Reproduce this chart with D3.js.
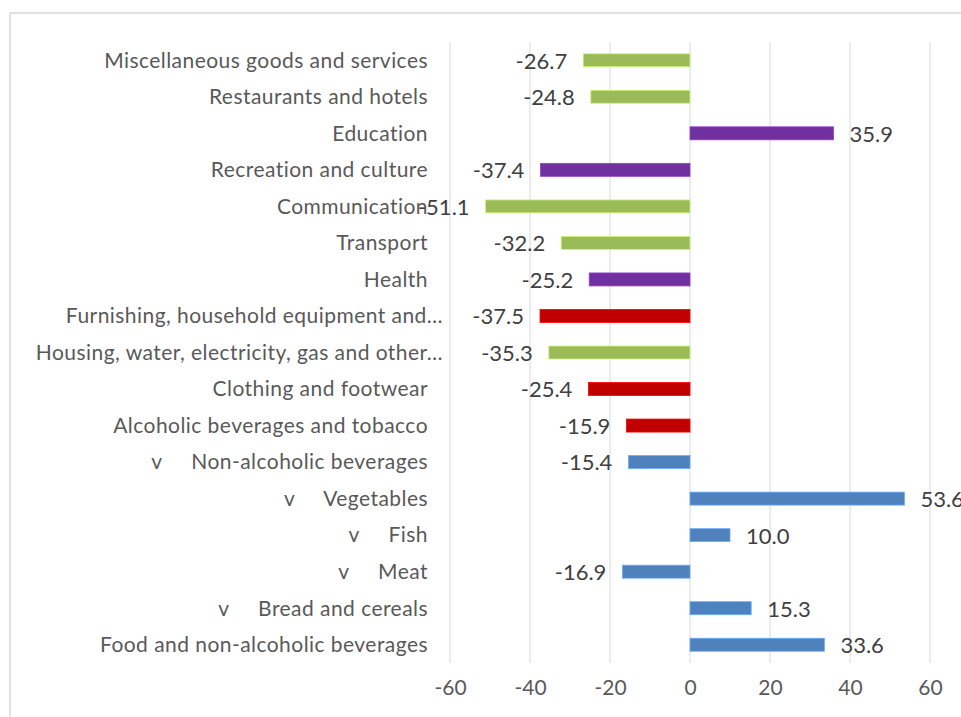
<!DOCTYPE html>
<html>
<head>
<meta charset="utf-8">
<script src="https://cdn.jsdelivr.net/npm/d3@7"></script>
<style>
  html, body { margin: 0; padding: 0; background: #fff; }
  svg text { font-family: Lato, "Open Sans", sans-serif; white-space: pre; }
</style>
</head>
<body>
<svg id="chart" width="961" height="717"></svg>
<script>
// Categories listed top to bottom
const categories = [
  "Miscellaneous goods and services",
  "Restaurants and hotels",
  "Education",
  "Recreation and culture",
  "Communication",
  "Transport",
  "Health",
  "Furnishing, household equipment and…",
  "Housing, water, electricity, gas and other…",
  "Clothing and footwear",
  "Alcoholic beverages and tobacco",
  "v     Non-alcoholic beverages",
  "v     Vegetables",
  "v     Fish",
  "v     Meat",
  "v     Bread and cereals",
  "Food and non-alcoholic beverages"
];
const values = [-26.7, -24.8, 35.9, -37.4, -51.1, -32.2, -25.2, -37.5, -35.3, -25.4, -15.9, -15.4, 53.6, 10.0, -16.9, 15.3, 33.6];
const groups = ["green", "green", "purple", "purple", "green", "green", "purple", "red", "green", "red", "red", "blue", "blue", "blue", "blue", "blue", "blue"];
const tickValues = [-60, -40, -20, 0, 20, 40, 60];

const palette = { green: "#9BBB59", purple: "#7030A0", red: "#C00000", blue: "#4F81BD" };

// Plain hyphen for negative numbers
const fmt1 = d => d3.format(".1f")(d).replace("\u2212", "-");

const svg = d3.select("#chart");

// Chart frame
svg.append("rect")
  .attr("x", 10).attr("y", 13)
  .attr("width", 1000).attr("height", 800)
  .attr("fill", "#fff")
  .attr("stroke", "#d9d9d9")
  .attr("stroke-width", 1.5);

const x = d3.scaleLinear().domain([-60, 60]).range([450, 930]);
const y = d3.scaleBand().domain(categories).range([42, 663]).padding(0);
const barH = 13;

// Vertical gridlines
svg.append("g").selectAll("line")
  .data(tickValues)
  .join("line")
  .attr("x1", d => x(d)).attr("x2", d => x(d))
  .attr("y1", 42).attr("y2", 663)
  .attr("stroke", "#d9d9d9")
  .attr("stroke-width", 1);

// Bottom axis labels
const axis = d3.axisBottom(x).tickValues(tickValues).tickSize(0).tickPadding(0)
  .tickFormat(d => String(d).replace("\u2212", "-"));
const axisG = svg.append("g").attr("transform", "translate(0,680)").call(axis);
axisG.select(".domain").remove();
axisG.selectAll("text")
  .attr("fill", "#595959")
  .style("font-size", "21px")
  .attr("dy", "0.72em");

// Bars
const rows = categories.map((c, i) => ({ c, v: values[i], g: groups[i] }));
svg.append("g").selectAll("rect")
  .data(rows)
  .join("rect")
  .attr("x", d => x(Math.min(0, d.v)))
  .attr("width", d => Math.abs(x(d.v) - x(0)))
  .attr("y", d => y(d.c) + y.bandwidth() / 2 - barH / 2)
  .attr("height", barH)
  .attr("fill", d => palette[d.g])
  .attr("stroke", d => d3.color(palette[d.g]).brighter(0.8))
  .attr("stroke-width", 0.8);

// Category labels
svg.append("g").selectAll("text")
  .data(rows)
  .join("text")
  .attr("x", d => d.c.endsWith("…") ? 443 : 428)
  .attr("y", d => y(d.c) + y.bandwidth() / 2)
  .attr("dy", "0.35em")
  .attr("text-anchor", "end")
  .attr("fill", "#595959")
  .style("font-size", "21px")
  .style("letter-spacing", "0.45px")
  .text(d => d.c);

// Value labels
svg.append("g").selectAll("text")
  .data(rows)
  .join("text")
  .attr("x", d => d.v < 0 ? x(d.v) - 16 : x(d.v) + 16)
  .attr("y", d => y(d.c) + y.bandwidth() / 2)
  .attr("dy", "0.38em")
  .attr("text-anchor", d => d.v < 0 ? "end" : "start")
  .attr("fill", "#404040")
  .style("font-size", "22px")
  .text(d => fmt1(d.v));
</script>
</body>
</html>
